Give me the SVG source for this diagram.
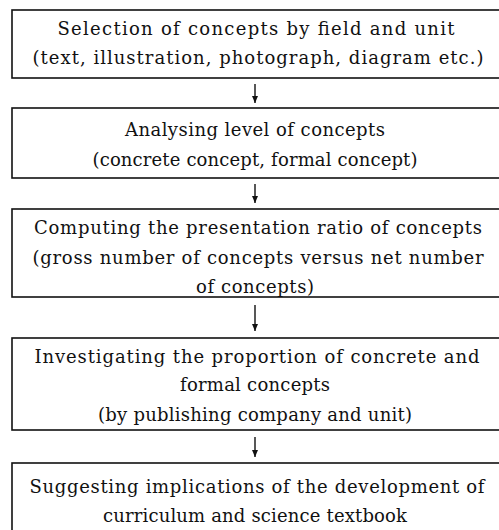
<svg xmlns="http://www.w3.org/2000/svg" width="499" height="530" viewBox="0 0 499 530">
<style>
.box{fill:#fff;stroke:#111;stroke-width:1.6}
.t{font-family:"DejaVu Serif","Liberation Serif",serif;font-size:18px;fill:#111;text-anchor:middle}
.c{stroke:#111;stroke-width:1.4;fill:none}
</style>
<defs>
<marker id="ah" markerWidth="8" markerHeight="8" refX="7" refY="4" orient="auto" markerUnits="userSpaceOnUse" viewBox="0 0 8 8">
<path d="M0,1 L7,4 L0,7 Z" fill="#111"/>
</marker>
</defs>
<rect width="499" height="530" fill="#fff"/>
<g id="connectors">
<line class="c" x1="255" y1="84" x2="255" y2="103" marker-end="url(#ah)"/>
<line class="c" x1="255" y1="184" x2="255" y2="203" marker-end="url(#ah)"/>
<line class="c" x1="255" y1="305" x2="255" y2="331" marker-end="url(#ah)"/>
<line class="c" x1="255" y1="437" x2="255" y2="457" marker-end="url(#ah)"/>
</g>
<g id="n1">
<rect class="box" x="12" y="10" width="500" height="68"/>
<text class="t" x="256" y="35" textLength="397" lengthAdjust="spacing">Selection of concepts by field and unit</text>
<text class="t" x="258" y="64" textLength="451" lengthAdjust="spacing">(text, illustration, photograph, diagram etc.)</text>
</g>
<g id="n2">
<rect class="box" x="12" y="108" width="500" height="70"/>
<text class="t" x="255" y="136" textLength="260" lengthAdjust="spacing">Analysing level of concepts</text>
<text class="t" x="255" y="166" textLength="325" lengthAdjust="spacing">(concrete concept, formal concept)</text>
</g>
<g id="n3">
<rect class="box" x="12" y="209" width="500" height="88"/>
<text class="t" x="258" y="234" textLength="448" lengthAdjust="spacing">Computing the presentation ratio of concepts</text>
<text class="t" x="258" y="264" textLength="451" lengthAdjust="spacing">(gross number of concepts versus net number</text>
<text class="t" x="255" y="293" textLength="118" lengthAdjust="spacing">of concepts)</text>
</g>
<g id="n4">
<rect class="box" x="12" y="338" width="500" height="92"/>
<text class="t" x="257" y="363" textLength="445" lengthAdjust="spacing">Investigating the proportion of concrete and</text>
<text class="t" x="255" y="391" textLength="150" lengthAdjust="spacing">formal concepts</text>
<text class="t" x="255" y="421" textLength="314" lengthAdjust="spacing">(by publishing company and unit)</text>
</g>
<g id="n5">
<rect class="box" x="12" y="463" width="500" height="80"/>
<text class="t" x="257" y="493" textLength="455" lengthAdjust="spacing">Suggesting implications of the development of</text>
<text class="t" x="255" y="522" textLength="304" lengthAdjust="spacing">curriculum and science textbook</text>
</g>
</svg>
